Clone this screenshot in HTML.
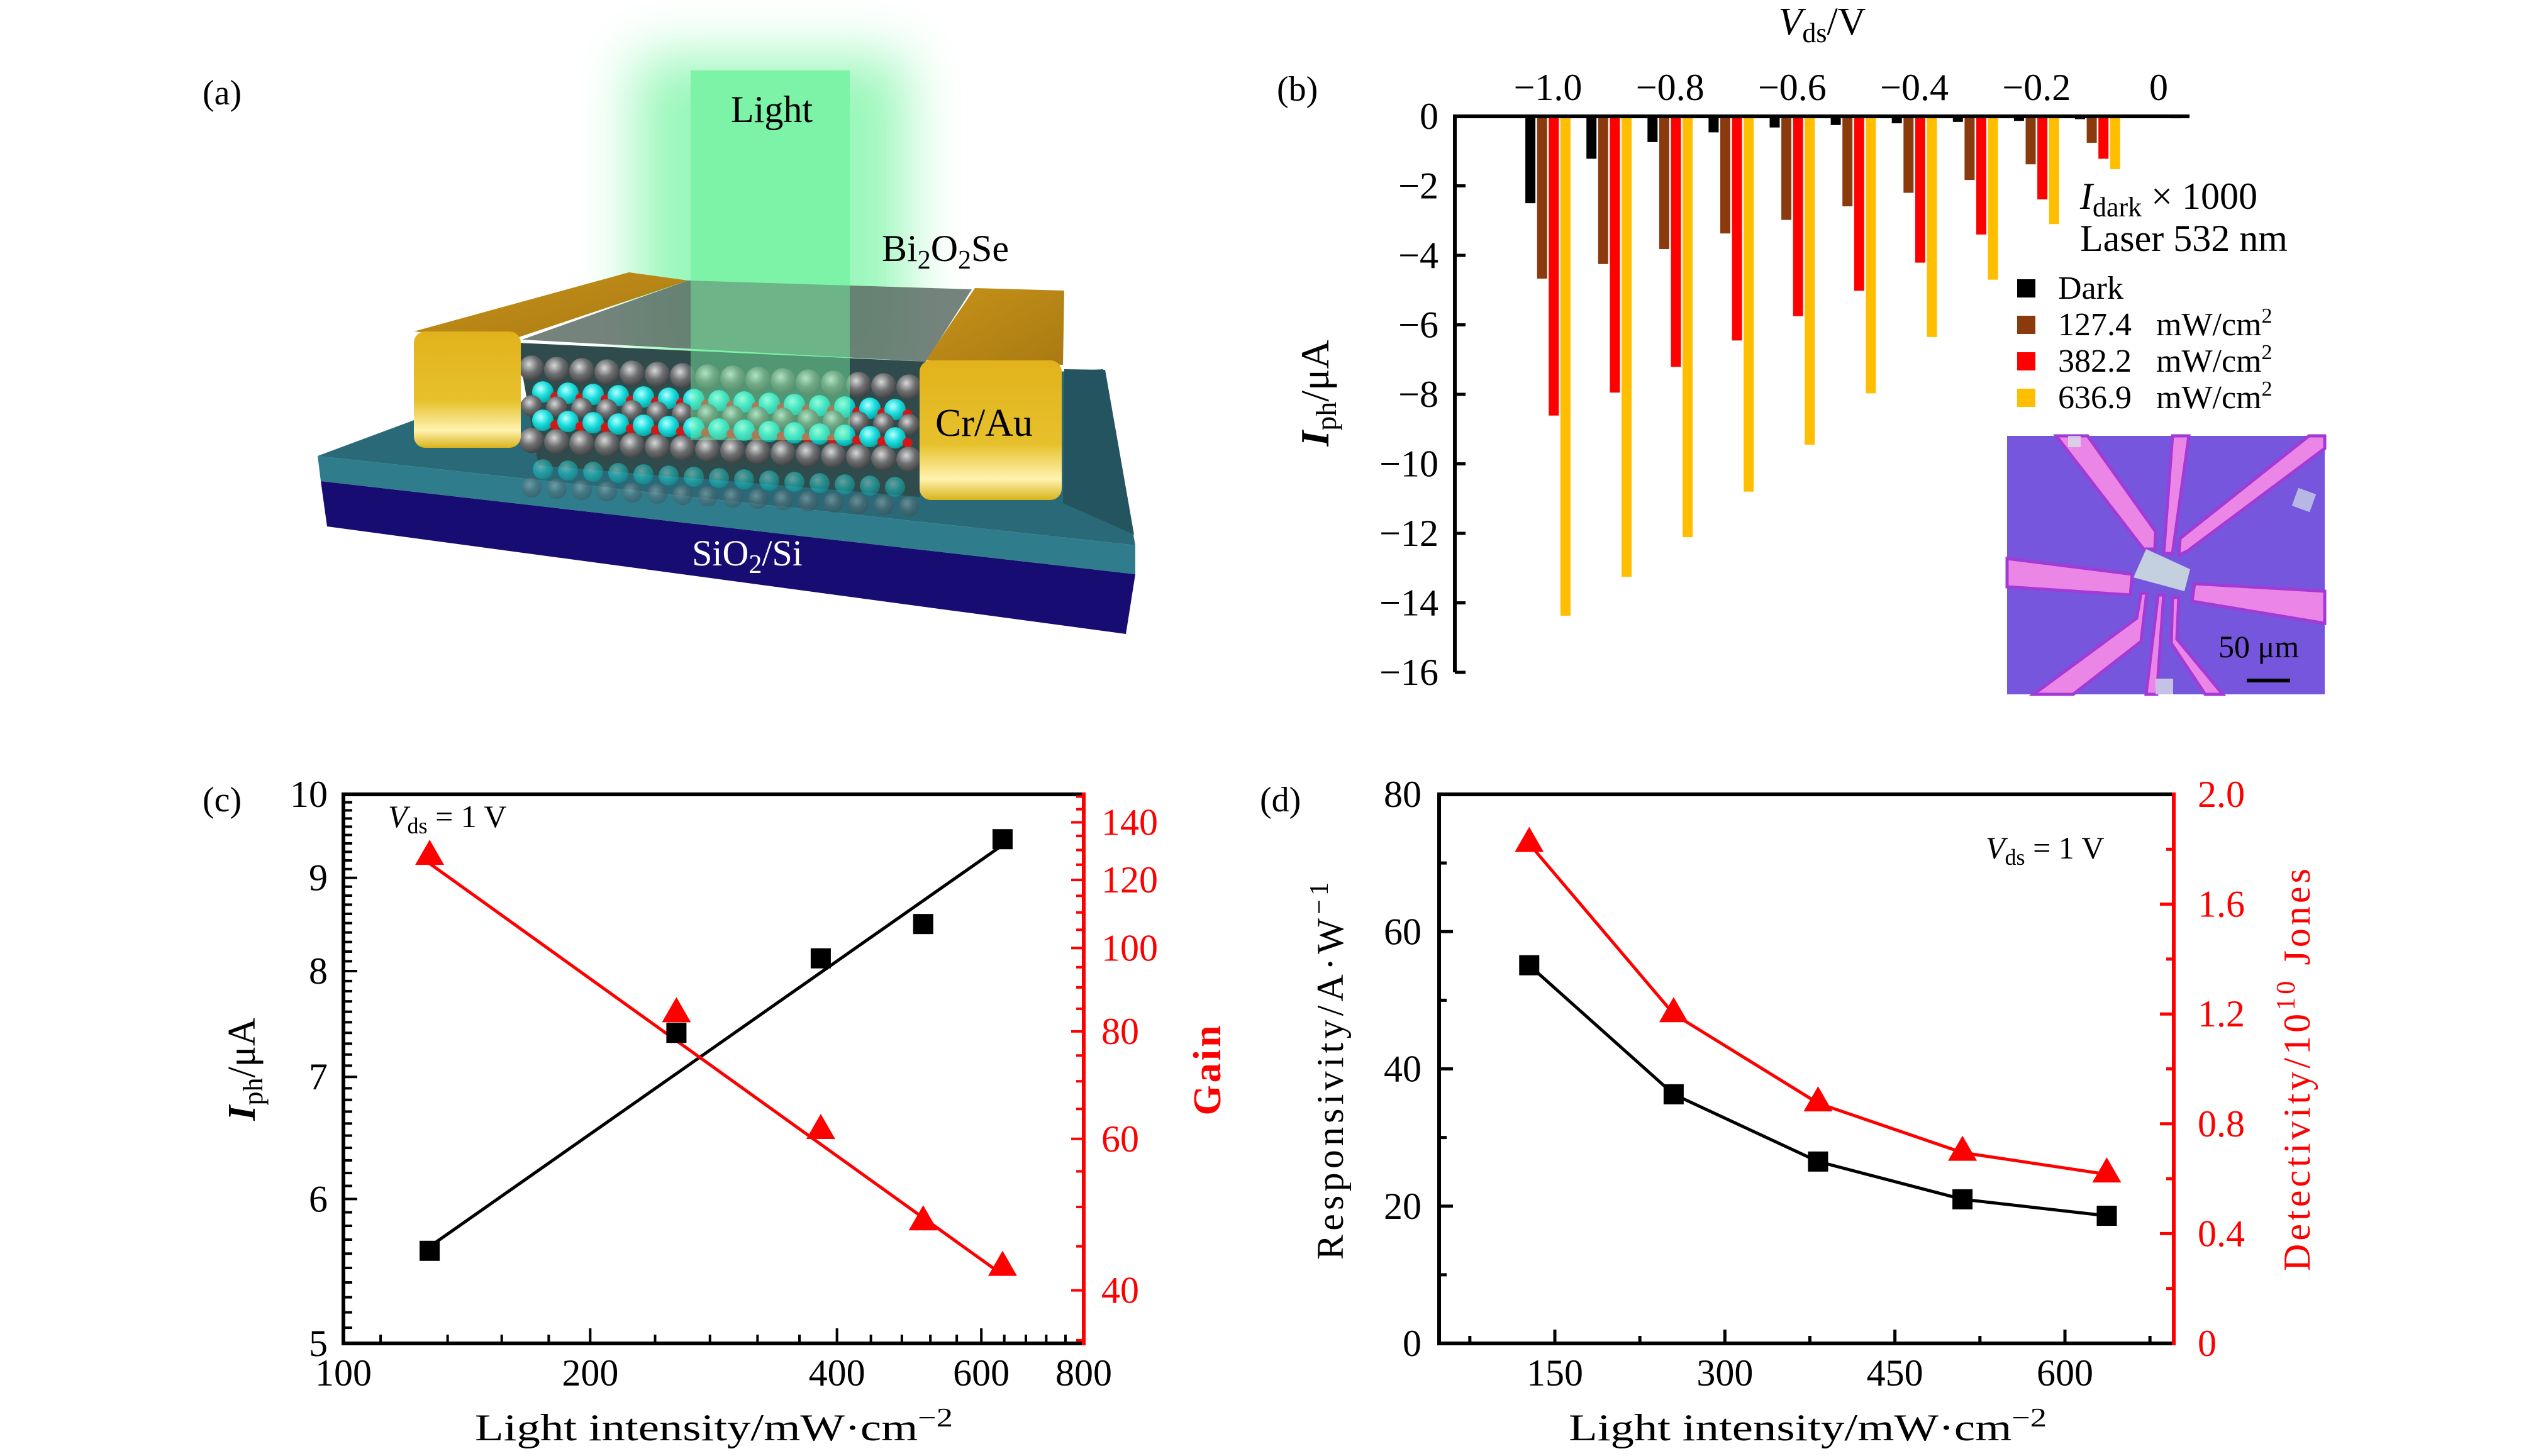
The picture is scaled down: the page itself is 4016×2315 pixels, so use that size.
<!DOCTYPE html>
<html><head><meta charset="utf-8"><style>
html,body{margin:0;padding:0;background:#fff;}
svg{display:block;font-family:"Liberation Serif",serif;}
</style></head><body>
<svg id="fig" xmlns="http://www.w3.org/2000/svg" width="4016" height="2315" viewBox="0 0 4016 2315">
<defs>
<filter id="blur" x="-50%" y="-50%" width="200%" height="200%"><feGaussianBlur stdDeviation="45"/></filter>
<linearGradient id="goldF" x1="0" y1="0" x2="0" y2="1"><stop offset="0" stop-color="#e2b21c"/><stop offset="0.6" stop-color="#e6c12c"/><stop offset="0.85" stop-color="#fff3b0"/><stop offset="1" stop-color="#d9b21a"/></linearGradient>
<linearGradient id="goldT" x1="0" y1="0" x2="1" y2="1"><stop offset="0" stop-color="#c7921a"/><stop offset="1" stop-color="#a97a12"/></linearGradient>
<radialGradient id="gray" cx="0.4" cy="0.35" r="0.7"><stop offset="0" stop-color="#d8d8d8"/><stop offset="0.5" stop-color="#6c6e70"/><stop offset="1" stop-color="#3a3c3e"/></radialGradient>
<radialGradient id="cyan" cx="0.4" cy="0.35" r="0.7"><stop offset="0" stop-color="#b8ffff"/><stop offset="0.5" stop-color="#19dede"/><stop offset="1" stop-color="#0a9a9a"/></radialGradient>
</defs>

<g>
  <text x="322" y="166" font-size="56">(a)</text>
  <rect x="1010" y="90" width="430" height="520" fill="#7ff5a8" opacity="0.8" filter="url(#blur)"/>
  <rect x="1098" y="112" width="253" height="500" fill="#7cf3a6"/>
  <text x="1227" y="194" font-size="60" text-anchor="middle">Light</text>
  <text x="1402" y="415" font-size="60">Bi<tspan font-size="42" dy="12">2</tspan><tspan dy="-12">O</tspan><tspan font-size="42" dy="12">2</tspan><tspan dy="-12">Se</tspan></text>
  <polygon points="510,765 1805,913 1790,1008 520,837" fill="#170c72"/>
  <polygon points="505,725 1805,867 1805,913 510,765" fill="#2f7d8c"/>
  <polygon points="505,725 720,645 1754,587 1805,867" fill="#2a6a78"/>
  <polygon points="1692,587 1757,588 1803,850 1690,800" fill="#24545f"/>
  <g>
    <polygon points="830,540 1094,446 1545,460 1472,575" fill="#5d6d66" opacity="0.85"/>
    <polygon points="822,545 1472,575 1462,790 856,740" fill="#2f4b4b"/>
    <g id="atomrows"></g>
  </g>
  <polygon points="658,527 1000,433 1094,446 813,540" fill="url(#goldT)"/>
  <rect x="658" y="527" width="170" height="185" rx="18" fill="url(#goldF)"/>
  <polygon points="1550,458 1692,462 1690,580 1472,573" fill="url(#goldT)"/>
  <rect x="1462" y="573" width="226" height="222" rx="18" fill="url(#goldF)"/>
  <text x="1487" y="693" font-size="62">Cr/Au</text>
  <text x="1188" y="899" font-size="58" text-anchor="middle" fill="#fff">SiO<tspan font-size="42" dy="12">2</tspan><tspan dy="-12">/Si</tspan></text>
</g>

<g id="panelB">
  <text x="2030" y="160" font-size="56">(b)</text>
  <text x="2897" y="55" font-size="62" text-anchor="middle"><tspan font-style="italic">V</tspan><tspan font-size="44" dy="12">ds</tspan><tspan dy="-12">/V</tspan></text>
  <text transform="translate(2112,625) rotate(-90)" font-size="64" text-anchor="middle"><tspan font-style="italic" font-weight="bold">I</tspan><tspan font-size="46" dy="12">ph</tspan><tspan dy="-12">/μA</tspan></text>
  <g id="barsB"></g>
  <g id="axesB"></g>
  <text x="3307" y="332" font-size="60"><tspan font-style="italic">I</tspan><tspan font-size="44" dy="12">dark</tspan><tspan dy="-12"> × 1000</tspan></text>
  <text x="3307" y="399" font-size="60">Laser 532 nm</text>
  <g id="legendB"></g>
  <g>
    <rect x="3191" y="693" width="505" height="411" fill="#7656dc"/>
    <g fill="#ec86e6" stroke="#a23bd6" stroke-width="5">
      <polygon points="3269,693 3319,693 3427,845 3426,873 3408,873"/>
      <polygon points="3454,693 3480,693 3454,880 3440,880"/>
      <polygon points="3671,693 3696,693 3696,713 3478,876 3464,883 3466,856"/>
      <polygon points="3191,888 3390,913 3387,946 3191,933"/>
      <polygon points="3489,928 3696,940 3696,991 3485,956"/>
      <polygon points="3404,943 3413,943 3404,1020 3296,1104 3233,1104 3397,983"/>
      <polygon points="3431,946 3440,946 3429,1104 3412,1104"/>
      <polygon points="3454,950 3464,950 3461,1016 3534,1104 3506,1104 3452,1023"/>
    </g>
    <polygon points="3412,873 3482,905 3473,940 3392,918" fill="#c4cfe0"/>
    <rect x="3288" y="693" width="20" height="18" fill="#d8dde8" opacity="0.8"/>
    <rect x="3648" y="780" width="30" height="30" fill="#c8d0e8" opacity="0.8" transform="rotate(20 3663 795)"/>
    <rect x="3427" y="1079" width="28" height="25" fill="#d8dde8" opacity="0.8"/>
    <text x="3527" y="1045" font-size="50">50 μm</text>
    <rect x="3572" y="1079" width="69" height="6" fill="#000"/>
  </g>
</g>

<g id="panelC">
  <text x="322" y="1290" font-size="56">(c)</text>
  <text x="617" y="1315" font-size="50"><tspan font-style="italic">V</tspan><tspan font-size="36" dy="10">ds</tspan><tspan dy="-10"> = 1 V</tspan></text>
  <text transform="translate(405,1700) rotate(-90)" font-size="62" text-anchor="middle"><tspan font-style="italic" font-weight="bold">I</tspan><tspan font-size="44" dy="12">ph</tspan><tspan dy="-12">/μA</tspan></text>
  <text transform="translate(1940,1700) rotate(-90)" font-size="62" font-weight="bold" fill="#ff0000" text-anchor="middle" letter-spacing="4">Gain</text>
  <text x="1135" y="2290" font-size="60" text-anchor="middle" textLength="760" lengthAdjust="spacingAndGlyphs">Light intensity/mW·cm<tspan font-size="42" dy="-22">−2</tspan></text>
  <g id="plotC"></g>
</g>

<g id="panelD">
  <text x="2003" y="1290" font-size="56">(d)</text>
  <text x="3157" y="1365" font-size="50"><tspan font-style="italic">V</tspan><tspan font-size="36" dy="10">ds</tspan><tspan dy="-10"> = 1 V</tspan></text>
  <text transform="translate(2135,1703) rotate(-90)" font-size="60" text-anchor="middle" textLength="600" lengthAdjust="spacing">Responsivity/A·W<tspan font-size="42" dy="-24">−1</tspan></text>
  <text transform="translate(3672,1701) rotate(-90)" font-size="60" fill="#ff0000" text-anchor="middle" textLength="640" lengthAdjust="spacing">Detectivity/10<tspan font-size="42" dy="-24">10</tspan><tspan dy="24"> Jones</tspan></text>
  <text x="2874" y="2290" font-size="60" text-anchor="middle" textLength="760" lengthAdjust="spacingAndGlyphs">Light intensity/mW·cm<tspan font-size="42" dy="-22">−2</tspan></text>
  <g id="plotD"></g>
</g>
</svg>

<script>
const bVoltages = [-1.0,-0.9,-0.8,-0.7,-0.6,-0.5,-0.4,-0.3,-0.2,-0.1,0];
const bDark = [-2.5,-1.22,-0.74,-0.46,-0.32,-0.25,-0.2,-0.16,-0.13,-0.08,-0.02];
const b127 = [-4.67,-4.25,-3.82,-3.37,-2.98,-2.59,-2.2,-1.83,-1.38,-0.76,-0.03];
const b382 = [-8.61,-7.95,-7.21,-6.45,-5.75,-5.02,-4.21,-3.4,-2.39,-1.22,-0.04];
const b637 = [-14.37,-13.25,-12.11,-10.8,-9.45,-7.97,-6.35,-4.7,-3.1,-1.52,-0.06];
const bTicksY = [0,-2,-4,-6,-8,-10,-12,-14,-16];
const bTicksX = [-1.0,-0.8,-0.6,-0.4,-0.2,0];
const bLegend = ['Dark','127.4','382.2','636.9'];

const cIntensity = [127.4,254.8,382.2,509.6,636.9];
const cIph = [5.62,7.40,8.13,8.49,9.45];
const cGain = [127.7,83.8,61.3,48.0,42.5];
const cIphFit = [5.65,9.38];
const cGainFit = [125.4,41.7];
const cTicksX = [100,200,400,600,800];
const cTicksYL = [5,6,7,8,9,10];
const cTicksYR = [40,60,80,100,120,140];

const dIntensity = [127.4,254.8,382.2,509.6,636.9];
const dResp = [55.1,36.3,26.5,21.0,18.6];
const dDet = [1.82,1.20,0.875,0.695,0.616];
const dTicksX = [150,300,450,600];
const dTicksYL = [0,20,40,60,80];
const dTicksYR = [0,0.4,0.8,1.2,1.6,2.0];

const NS = 'http://www.w3.org/2000/svg';
const TF = 60;
function mk(tag, attrs, parent){
  const el = document.createElementNS(NS, tag);
  for (const k in attrs) el.setAttribute(k, attrs[k]);
  parent.appendChild(el);
  return el;
}

(function(){
  const g = document.getElementById('atomrows');
  const rows = [
    {y:585, c:'url(#gray)', r:20},
    {y:622, c:'url(#cyan)', r:17},
    {y:645, c:'url(#gray)', r:17},
    {y:667, c:'url(#cyan)', r:17},
    {y:700, c:'url(#gray)', r:20},
    {y:745, c:'url(#cyan)', r:16, o:0.45},
    {y:775, c:'url(#gray)', r:16, o:0.35}
  ];
  rows.forEach(function(rw, ri){
    for (let x = 845 + (ri%2)*18; x < 1460; x += 40) {
      const dy = (x - 840) * 0.05;
      const el = mk('circle', {cx:x, cy:rw.y + dy, r:rw.r, fill:rw.c, opacity: rw.o || 1}, g);
      
      
      if (ri === 1 || ri === 3) {
        const o = mk('circle', {cx:x+20, cy:rw.y + dy + 8, r:8, fill:'#d01818'}, g);
        
        
      }
    }
  });
  const veil = mk('rect', {x:1098, y:440, width:253, height:260, fill:'#7cf3a6', opacity:0.45}, g);
  
  
})();

(function(){
  const x0 = 3432, pxPerV = 971, y0 = 185, pxPerUA = 55.25;
  const xB = v => x0 + v * pxPerV;
  const yB = v => y0 - v * pxPerUA;
  const bars = document.getElementById('barsB');
  const series = [bDark, b127, b382, b637];
  const colors = ['#000000','#8b3a0e','#ff0000','#ffbf00'];
  const names = ['dark','127','382','637'];
  bVoltages.forEach(function(v, i){
    series.forEach(function(s, si){
      const cx = xB(v) + (si - 1.5) * 18.6;
      const top = yB(0), bot = yB(s[i]);
      const r = mk('rect', {x:cx-8, y:top, width:16, height:Math.max(1, bot-top), fill: v===0 ? '#c8c8c8' : colors[si]}, bars);
      
      
    });
  });
  const ax = document.getElementById('axesB');
  const yl = mk('line', {x1:2313, y1:y0, x2:2313, y2:yB(-16), stroke:'#000', 'stroke-width':6}, ax);
  
  
  const xl = mk('line', {x1:2310, y1:y0, x2:3481, y2:y0, stroke:'#000', 'stroke-width':6}, ax);
  
  
  bTicksY.forEach(function(t){
    const tk = mk('line', {x1:2313, y1:yB(t), x2:2330, y2:yB(t), stroke:'#000', 'stroke-width':5}, ax);
    
    
    const tx = mk('text', {x:2287, y:yB(t)+20, 'font-size':TF, 'text-anchor':'end'}, ax);
    tx.textContent = t === 0 ? '0' : '−' + Math.abs(t);
    
    
  });
  bTicksX.forEach(function(t){
    const tx = mk('text', {x:xB(t), y:159, 'font-size':TF, 'text-anchor':'middle'}, ax);
    tx.textContent = t === 0 ? '0' : '−' + Math.abs(t).toFixed(1);
    
    
  });
  const lg = document.getElementById('legendB');
  const ly = [458,516,574,632];
  bLegend.forEach(function(lbl, i){
    const sq = mk('rect', {x:3207, y:ly[i]-14, width:29, height:29, fill:colors[i]}, lg);
    
    
    const t = mk('text', {x:3272, y:ly[i]+17, 'font-size':52}, lg);
    
    
    t.setAttribute('xml:space', 'preserve');
    if (i === 0) { t.textContent = lbl; }
    else {
      t.textContent = lbl + '\u2002 mW/cm';
      const sup = mk('tspan', {'font-size':34, dy:-20}, t);
      sup.textContent = '2';
    }
  });
})();

function marker(g, type, x, y, color, name){
  let el;
  if (type === 'sq') el = mk('rect', {x:x-16, y:y-16, width:32, height:32, fill:color}, g);
  else el = mk('polygon', {points:(x)+','+(y-27)+' '+(x-23)+','+(y+13)+' '+(x+23)+','+(y+13), fill:color}, g);
  
  
}

(function(){
  const L=546, R=1723, T=1263, B=2136;
  const xC = v => L + (R-L) * Math.log10(v/100) / Math.log10(8);
  const yCL = v => B - (B-T) * Math.log2(v/5);
  const yCR = g => B - (B-T) * Math.log10(g/34.7) / Math.log10(150.9/34.7);
  const g = document.getElementById('plotC');
  const frame = mk('path', {d:'M'+R+','+T+' L'+L+','+T+' L'+L+','+B+' L'+R+','+B, fill:'none', stroke:'#000', 'stroke-width':6}, g);
  
  
  const ra = mk('line', {x1:R, y1:T-3, x2:R, y2:B+3, stroke:'#ff0000', 'stroke-width':6}, g);
  
  
  for (let v = 5; v <= 10.001; v += 0.1) {
    const major = Math.abs(v - Math.round(v)) < 0.01;
    const tk = mk('line', {x1:L, y1:yCL(v), x2:L + (major?22:14), y2:yCL(v), stroke:'#000', 'stroke-width':4}, g);
    
    
  }
  cTicksYL.forEach(function(t){
    const tx = mk('text', {x:521, y:yCL(t)+20, 'font-size':TF, 'text-anchor':'end'}, g);
    tx.textContent = t;
    
    
  });
  for (let v = 35; v <= 150; v += 5) {
    const major = v % 20 === 0;
    const tk = mk('line', {x1:R, y1:yCR(v), x2:R - (major?20:12), y2:yCR(v), stroke:'#ff0000', 'stroke-width':4}, g);
    
    
  }
  cTicksYR.forEach(function(t){
    const tx = mk('text', {x:1751, y:yCR(t)+20, 'font-size':TF, fill:'#ff0000'}, g);
    tx.textContent = t;
    
    
  });
  const minor = [111,134,156,178,200,240,280,320,360,400,440,480,520,560,600,640,680,720,760];
  minor.forEach(function(v){
    const major = (v===200||v===400||v===600);
    const tk = mk('line', {x1:xC(v), y1:B, x2:xC(v), y2:B-(major?24:14), stroke:'#000', 'stroke-width':4}, g);
    
    
  });
  cTicksX.forEach(function(t){
    const tx = mk('text', {x:xC(t), y:2203, 'font-size':TF, 'text-anchor':'middle'}, g);
    tx.textContent = t;
    
    
  });
  const xa = cIntensity[0], xb = cIntensity[cIntensity.length-1];
  const fitI = mk('line', {x1:xC(xa), y1:yCL(cIphFit[0]), x2:xC(xb), y2:yCL(cIphFit[1]), stroke:'#000', 'stroke-width':5}, g);
  
  
  const fitG = mk('line', {x1:xC(xa), y1:yCR(cGainFit[0]), x2:xC(xb), y2:yCR(cGainFit[1]), stroke:'#ff0000', 'stroke-width':5}, g);
  
  
  cIntensity.forEach(function(v, i){
    marker(g, 'sq', xC(v), yCL(cIph[i]), '#000', 'iph-point');
    marker(g, 'tri', xC(v), yCR(cGain[i]), '#ff0000', 'gain-point');
  });
})();

(function(){
  const L=2288, R=3456, T=1263, B=2136;
  const xD = v => 2472 + (v - 150) * 1.8022;
  const yDL = v => B - v * (B-T) / 80;
  const yDR = v => B - v * (B-T) / 2;
  const g = document.getElementById('plotD');
  const frame = mk('path', {d:'M'+R+','+T+' L'+L+','+T+' L'+L+','+B+' L'+R+','+B, fill:'none', stroke:'#000', 'stroke-width':6}, g);
  
  
  const ra = mk('line', {x1:R, y1:T-3, x2:R, y2:B+3, stroke:'#ff0000', 'stroke-width':6}, g);
  
  
  for (let v = 10; v < 80; v += 10) {
    const major = v % 20 === 0;
    const tk = mk('line', {x1:L, y1:yDL(v), x2:L+(major?22:12), y2:yDL(v), stroke:'#000', 'stroke-width':5}, g);
    
    
  }
  dTicksYL.forEach(function(t){
    const tx = mk('text', {x:2260, y:yDL(t)+20, 'font-size':TF, 'text-anchor':'end'}, g);
    tx.textContent = t;
    
    
  });
  for (let k = 1; k < 10; k++) {
    const v = k * 0.2;
    const major = k % 2 === 0;
    const tk = mk('line', {x1:R, y1:yDR(v), x2:R-(major?22:12), y2:yDR(v), stroke:'#ff0000', 'stroke-width':5}, g);
    
    
  }
  dTicksYR.forEach(function(t){
    const tx = mk('text', {x:3494, y:yDR(t)+20, 'font-size':TF, fill:'#ff0000'}, g);
    tx.textContent = t === 0 ? '0' : t.toFixed(1);
    
    
  });
  for (let v = 75; v < 694; v += 75) {
    const major = v % 150 === 0;
    const tk = mk('line', {x1:xD(v), y1:B, x2:xD(v), y2:B-(major?22:12), stroke:'#000', 'stroke-width':5}, g);
    
    
  }
  dTicksX.forEach(function(t){
    const tx = mk('text', {x:xD(t), y:2203, 'font-size':TF, 'text-anchor':'middle'}, g);
    tx.textContent = t;
    
    
  });
  const pr = mk('polyline', {points: dIntensity.map((v,i)=>xD(v)+','+yDL(dResp[i])).join(' '), fill:'none', stroke:'#000', 'stroke-width':5}, g);
  
  
  const pd = mk('polyline', {points: dIntensity.map((v,i)=>xD(v)+','+yDR(dDet[i])).join(' '), fill:'none', stroke:'#ff0000', 'stroke-width':5}, g);
  
  
  dIntensity.forEach(function(v, i){
    marker(g, 'sq', xD(v), yDL(dResp[i]), '#000', 'responsivity-point');
    marker(g, 'tri', xD(v), yDR(dDet[i]), '#ff0000', 'detectivity-point');
  });
})();
</script>
</body></html>
